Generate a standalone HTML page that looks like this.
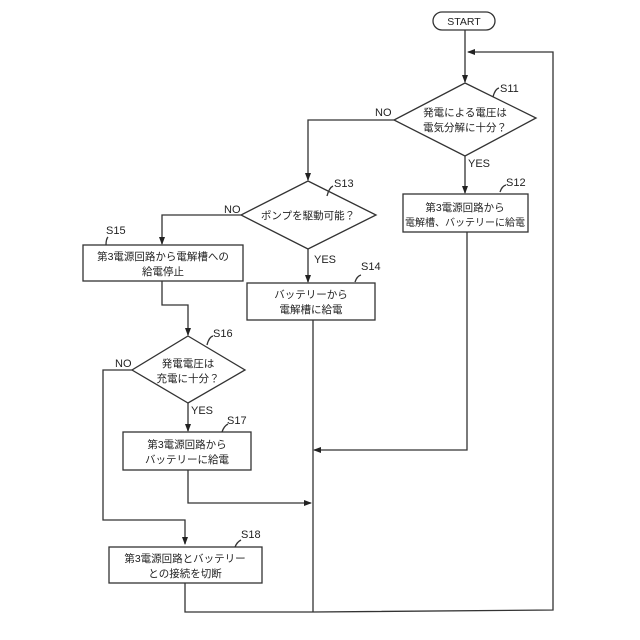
<!DOCTYPE html>
<html><head><meta charset="utf-8"><style>body{margin:0;background:#fff}svg{display:block}</style></head><body>
<svg width="640" height="640" viewBox="0 0 640 640" xmlns="http://www.w3.org/2000/svg" font-family="Liberation Sans, Noto Sans CJK JP, sans-serif" font-size="10.5" fill="#222">
<defs><marker id="a" markerWidth="8" markerHeight="8" refX="7" refY="4" orient="auto" markerUnits="userSpaceOnUse"><path d="M0,1 L8,4 L0,7 z" fill="#222"/></marker></defs>
<g stroke="#333" stroke-width="1.3" fill="none">
<rect x="433" y="12" width="62" height="18" rx="9" fill="#fff"/>
<line x1="465" y1="30" x2="465" y2="82" marker-end="url(#a)"/>
<polyline points="313,612 553,610 553,52 468,52" marker-end="url(#a)"/>
<polygon points="465,83 536,118 465,156 394,120" fill="#fff"/>
<polyline points="394,120 308,120 308,180" marker-end="url(#a)"/>
<line x1="465" y1="156" x2="465" y2="193" marker-end="url(#a)"/>
<rect x="403" y="194" width="125" height="38" fill="#fff"/>
<polyline points="467,232 467,450 314,450" marker-end="url(#a)"/>
<polygon points="308,181 376,215 308,249 241,215" fill="#fff"/>
<polyline points="241,215 162,215 162,244" marker-end="url(#a)"/>
<line x1="308" y1="249" x2="308" y2="282" marker-end="url(#a)"/>
<rect x="247" y="283" width="128" height="37" fill="#fff"/>
<line x1="313" y1="320" x2="313" y2="612"/>
<rect x="83" y="245" width="160" height="36" fill="#fff"/>
<polyline points="162,281 162,305 188,305 188,335" marker-end="url(#a)"/>
<polygon points="188,336 245,370 188,403 132,370" fill="#fff"/>
<polyline points="132,370 103,370 103,520 185,520 185,544" marker-end="url(#a)"/>
<line x1="188" y1="403" x2="188" y2="431" marker-end="url(#a)"/>
<rect x="123" y="432" width="128" height="38" fill="#fff"/>
<polyline points="188,470 188,503 311,503" marker-end="url(#a)"/>
<rect x="109" y="547" width="153" height="36" fill="#fff"/>
<polyline points="185,583 185,612 313,612"/>
<path d="M493,97 q2,-8 6,-9 M500,192 q2,-6 6,-7 M327,196 q2,-8 6,-10 M355,282 q2,-6 6,-7 M106,245 q0,-6 2,-8 M207,345 q2,-8 6,-9 M222,432 q2,-6 6,-8 M235,547 q2,-5 6,-7"/>
</g>
<g text-anchor="middle">
<text x="464" y="25">START</text>
<text x="465" y="116">発電による電圧は</text>
<text x="465" y="131">電気分解に十分？</text>
<text x="465" y="211">第3電源回路から</text>
<text x="465" y="226" font-size="10">電解槽、バッテリーに給電</text>
<text x="308" y="219">ポンプを駆動可能？</text>
<text x="311" y="298">バッテリーから</text>
<text x="311" y="313">電解槽に給電</text>
<text x="163" y="260">第3電源回路から電解槽への</text>
<text x="163" y="275">給電停止</text>
<text x="188" y="367">発電電圧は</text>
<text x="188" y="382">充電に十分？</text>
<text x="187" y="448">第3電源回路から</text>
<text x="187" y="463">バッテリーに給電</text>
<text x="185" y="562">第3電源回路とバッテリー</text>
<text x="185" y="577">との接続を切断</text>
</g>
<g font-size="11">
<text x="500" y="92">S11</text><text x="506" y="186">S12</text><text x="334" y="187">S13</text>
<text x="361" y="270">S14</text><text x="106" y="234">S15</text><text x="213" y="337">S16</text>
<text x="227" y="424">S17</text><text x="241" y="538">S18</text>
<text x="375" y="116">NO</text><text x="468" y="167">YES</text><text x="224" y="213">NO</text>
<text x="314" y="263">YES</text><text x="115" y="367">NO</text><text x="191" y="414">YES</text>
</g>
</svg>
</body></html>
